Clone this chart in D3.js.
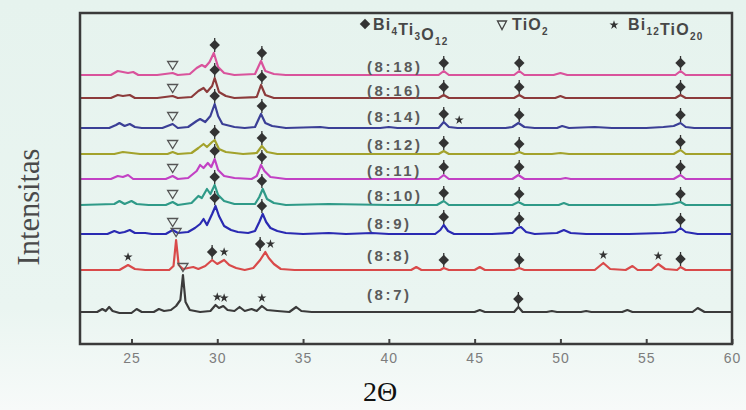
<!DOCTYPE html>
<html>
<head>
	<title>XRD Bi4Ti3O12</title>
	<meta charset="utf-8">
	<script src="https://cdnjs.cloudflare.com/ajax/libs/d3/7.8.5/d3.min.js"></script>
	<style type="text/css">
		body { margin: 0; }
		.tick text { font-family: Arial, "Liberation Sans", sans-serif; font-size: 14px; fill: #7d7d7d; letter-spacing: 1px; }
		.tick line { stroke: #444; stroke-width: 2px; }
		.lbl { font-family: Arial, "Liberation Sans", sans-serif; font-size: 15px; font-weight: bold; fill: #5a5a5a; letter-spacing: 2.6px; }
		.leg { font-family: Arial, "Liberation Sans", sans-serif; font-size: 16px; font-weight: bold; fill: #474747; letter-spacing: 1.2px; }
	</style>
</head>
<body>
	<script type="text/javascript">

		// sample names, bottom to top
		let samples = ['(8:7)', '(8:8)', '(8:9)', '(8:10)', '(8:11)', '(8:12)', '(8:14)', '(8:16)', '(8:18)'];
		// vertical offset of each pattern (a.u.)
		let offsets = [32, 74, 110, 139, 165, 190, 216, 246, 269];
		let colors = ['#3b3b3b', '#d94a4a', '#2a2ab2', '#2f9a88', '#c241c4', '#a3a22c', '#3b3f96', '#8c3b3b', '#d9539c'];
		let xTicks = [25, 30, 35, 40, 45, 50, 55, 60];

		// [2theta, intensity above own baseline]
		let p87 = [[22,0],[23.0,0],[23.3,3],[23.5,1],[23.7,5],[23.9,1],[24.3,-1],[25.0,-1],[25.3,3],[25.6,0],[26.3,0],[26.6,3],[26.9,1],[27.3,2],[27.6,6],[27.85,12],[28.0,37],[28.15,10],[28.4,2],[29.0,0],[29.6,1],[29.9,7],[30.1,4],[30.35,6],[30.6,2],[31.0,1],[31.3,5],[31.6,1],[32.0,3],[32.3,1],[32.6,6],[32.9,2],[33.5,1],[34.2,0],[34.6,5],[34.9,1],[35.5,0],[38.0,0],[41.0,0],[45.0,0],[45.3,2],[45.6,0],[47.3,0],[47.55,5],[47.8,0],[49.2,0],[49.5,1],[49.8,0],[51.2,0],[51.5,1],[51.8,0],[53.6,0],[53.9,2],[54.2,0],[57.7,0],[58.0,4],[58.4,0],[60,0]];
		let p88 = [[22,0],[24.3,0],[24.8,5],[25.2,1],[25.8,0],[27.2,0],[27.45,4],[27.6,30],[27.75,5],[28.0,1],[28.6,3],[28.9,1],[29.3,4],[29.7,10],[30.0,6],[30.4,10],[30.7,5],[31.1,2],[31.6,0],[32.1,2],[32.5,10],[32.8,18],[33.0,12],[33.3,6],[33.7,1],[34.5,0],[40,0],[41.3,0],[41.6,3],[41.9,0],[43.0,0],[43.2,2],[43.5,0],[45.0,0],[45.3,3],[45.6,0],[47.3,0],[47.6,2],[47.9,0],[52.0,0],[52.5,7],[52.9,1],[53.8,0],[54.2,4],[54.5,0],[55.3,0],[55.7,6],[56.1,1],[56.8,0],[57.0,3],[57.3,0],[60,0]];
		let p89 = [[22,0],[23.6,0],[24.0,3],[24.3,1],[24.6,2],[24.9,4],[25.2,1],[25.8,1],[26.2,0],[27.0,0],[27.4,4],[27.7,1],[28.3,2],[28.7,6],[29.0,10],[29.2,15],[29.4,9],[29.7,20],[29.9,28],[30.1,18],[30.4,8],[30.8,4],[31.2,2],[31.8,1],[32.2,3],[32.45,12],[32.65,20],[32.85,12],[33.1,6],[33.5,3],[34.0,1],[35.0,0],[36.5,1],[37.5,0],[39.0,1],[40.0,0],[42.7,0],[43.0,4],[43.2,9],[43.45,3],[43.8,0],[46.0,0],[47.2,1],[47.5,6],[47.7,7],[48.0,2],[48.5,0],[49.8,1],[50.2,4],[50.6,1],[51.5,0],[54.0,0],[56.0,1],[56.7,2],[57.0,6],[57.3,2],[58,0],[60,0]];
		let p810 = [[22,0],[24.0,1],[24.3,4],[24.6,1],[25.0,4],[25.3,1],[26,0],[27.0,0],[27.4,3],[27.7,0],[28.5,2],[28.9,9],[29.1,7],[29.4,16],[29.6,11],[29.85,20],[30.05,10],[30.4,4],[31,1],[32.2,1],[32.45,8],[32.65,16],[32.9,6],[33.3,2],[34,0],[36.5,1],[40,0],[42.8,0],[43.2,4],[43.5,0],[47.2,0],[47.55,3],[47.9,0],[49.9,0],[50.2,2],[50.5,0],[55.5,0],[56.5,1],[57.0,3],[57.3,0],[60,0]];
		let p811 = [[22,0],[23.8,0],[24.2,3],[24.5,2],[24.8,4],[25.1,0],[26.0,0],[27.0,0],[27.4,3],[27.7,0],[28.3,1],[28.8,8],[29.0,14],[29.2,11],[29.45,16],[29.65,12],[29.85,20],[30.05,9],[30.4,3],[31,1],[32,0],[32.3,3],[32.55,14],[32.75,8],[33.1,2],[34,0],[40,0],[42.9,0],[43.2,4],[43.5,0],[47.2,0],[47.55,4],[47.9,0],[50.0,0],[50.3,1],[50.6,0],[56.6,0],[57.0,4],[57.3,0],[60,0]];
		let p812 = [[22,0],[24.0,0],[24.5,2],[25.0,1],[25.5,0],[27.1,0],[27.4,2],[27.7,0],[28.5,1],[28.9,6],[29.2,10],[29.4,7],[29.7,12],[29.85,14],[30.1,5],[30.5,2],[31.5,0],[32.3,1],[32.6,8],[32.9,2],[33.5,0],[40,0],[42.9,0],[43.2,3],[43.5,0],[47.3,0],[47.6,2],[47.9,0],[49.5,0],[50.0,1],[50.5,0],[56.6,0],[57.0,4],[57.3,0],[60,0]];
		let p814 = [[22,0],[23.7,0],[24.1,3],[24.3,5],[24.6,2],[24.9,4],[25.2,1],[25.6,0],[26.8,0],[27.4,4],[27.7,0],[28.3,1],[28.8,7],[29.0,9],[29.3,6],[29.6,12],[29.85,24],[30.05,12],[30.3,4],[31,1],[31.6,0],[32.2,1],[32.55,14],[32.8,5],[33.2,2],[34,0],[36,1],[36.5,0],[39.5,0],[40,1],[40.5,0],[42.9,0],[43.2,6],[43.5,1],[44,0],[46.8,0],[47.2,1],[47.55,5],[47.9,1],[48.5,0],[49.8,0],[50.1,2],[50.5,0],[52,1],[53,0],[55,0],[56,1],[56.6,2],[57.0,5],[57.3,1],[57.8,0],[60,0]];
		let p816 = [[22,0],[23.8,0],[24.2,3],[24.5,2],[24.9,3],[25.2,0],[26.5,0],[27.4,2],[27.7,0],[28.5,1],[28.9,7],[29.2,10],[29.4,6],[29.7,12],[29.85,20],[30.1,6],[30.5,2],[31,0],[32.3,1],[32.55,13],[32.8,3],[33.3,0],[40,0],[42.9,0],[43.2,3],[43.5,0],[47.3,0],[47.6,3],[47.9,0],[49.7,0],[50.0,2],[50.3,0],[56.7,0],[57.0,3],[57.3,0],[60,0]];
		let p818 = [[22,0],[23.8,0],[24.2,4],[24.5,3],[24.8,2],[25.1,3],[25.4,0],[26.5,0],[27.4,2],[27.7,0],[28.4,1],[28.8,7],[29.1,10],[29.3,8],[29.55,13],[29.8,22],[30.05,8],[30.4,2],[31,0],[32.2,1],[32.55,14],[32.8,4],[33.3,1],[34,0],[40,0],[42.9,0],[43.2,4],[43.5,0],[47.3,0],[47.6,4],[47.9,0],[49.6,0],[50.0,2],[50.4,0],[56.7,0],[57.0,4],[57.3,0],[60,0]];
		let patterns = [p87, p88, p89, p810, p811, p812, p814, p816, p818];

		// phase markers per pattern: [2theta, phase]  b = Bi4Ti3O12, t = TiO2, s = Bi12TiO20
		let bitSet = [[27.4,'t'],[29.85,'b'],[32.6,'b'],[43.2,'b'],[47.6,'b'],[57.0,'b']];
		let marks = [
			[[28.0,'t'],[30.0,'s'],[30.4,'s'],[32.6,'s'],[47.55,'b']],
			[[24.8,'s'],[27.6,'t'],[29.7,'b'],[30.4,'s'],[32.5,'b'],[33.1,'s'],[43.2,'b'],[47.6,'b'],[52.5,'s'],[55.7,'s'],[57.0,'b']],
			bitSet, bitSet, bitSet, bitSet,
			bitSet.concat([[44.1,'s']]),
			bitSet, bitSet
		];

		let W = 746, H = 410;
		let svg = d3.select('body').append('svg')
			.attr('width', W)
			.attr('height', H);

		// page background (faded watermark look)
		let grad = svg.append('defs').append('linearGradient')
			.attr('id', 'bg').attr('x1', 0).attr('y1', 0).attr('x2', 0).attr('y2', 1);
		grad.append('stop').attr('offset', '0%').attr('stop-color', '#e6f3ee');
		grad.append('stop').attr('offset', '75%').attr('stop-color', '#eaf5f1');
		grad.append('stop').attr('offset', '100%').attr('stop-color', '#f7faf9');
		svg.append('rect').attr('width', W).attr('height', H).attr('fill', 'url(#bg)');

		let xScale = d3.scaleLinear().domain([22, 60]).range([80, 732]);
		let yScale = d3.scaleLinear().domain([0, 331]).range([344, 13]);

		// x axis, ticks pointing inside
		svg.append('g')
			.attr('transform', 'translate(0,344)')
			.call(d3.axisBottom(xScale).tickValues(xTicks).tickSize(-5).tickPadding(9))
			.call(g => g.select('.domain').remove());

		let line = d3.line()
			.x(d => xScale(d[0]))
			.y(d => d[1]);

		patterns.forEach((pts, i) => {
			svg.append('path')
				.datum(pts.map(p => [p[0], yScale(offsets[i] + p[1])]))
				.attr('d', line)
				.attr('fill', 'none')
				.attr('stroke', colors[i])
				.attr('stroke-width', 2.2)
				.attr('stroke-linejoin', 'round');
		});

		// phase markers sit above the local maximum of the pattern
		let mk = svg.append('g').attr('fill', '#333').attr('stroke', '#333');
		marks.forEach((list, i) => {
			list.forEach(m => {
				let near = patterns[i].filter(p => Math.abs(p[0] - m[0]) <= 0.35);
				let top = d3.max(near, p => p[1]) || 0;
				let cx = xScale(m[0]);
				let cy = yScale(offsets[i] + top) - 8;
				if (m[1] === 'b') {
					mk.append('line').attr('x1', cx).attr('x2', cx).attr('y1', cy - 7).attr('y2', cy + 7).attr('stroke-width', 1.3);
					mk.append('path').attr('d', d3.symbol(d3.symbolDiamond2, 70)())
						.attr('transform', `translate(${cx},${cy})`).attr('stroke', 'none');
				} else if (m[1] === 't') {
					mk.append('path').attr('d', 'M-5,-3.5L5,-3.5L0,4.5Z')
						.attr('transform', `translate(${cx},${cy})`)
						.attr('fill', 'none').attr('stroke', '#555').attr('stroke-width', 1.3);
				} else {
					mk.append('path').attr('d', d3.symbol(d3.symbolStar, 26)())
						.attr('transform', `translate(${cx},${cy})`).attr('stroke', 'none');
				}
			});
		});

		// sample labels
		samples.forEach((s, i) => {
			let above = i < samples.length - 1 ? (offsets[i] + offsets[i + 1]) / 2 - 4 : offsets[i] + 8;
			svg.append('text')
				.attr('class', 'lbl')
				.attr('x', 367)
				.attr('y', yScale(above))
				.attr('dy', '0.35em')
				.text(s);
		});

		// legend
		function formula(el, parts) {
			parts.forEach(t => {
				if (t[1]) {
					el.append('tspan').text(t[0]).attr('font-size', 10).attr('dy', 5);
					el.append('tspan').text('').attr('dy', -5);
				} else {
					el.append('tspan').text(t[0]);
				}
			});
		}
		formula(svg.append('text').attr('class', 'leg').attr('x', 373).attr('y', 30),
			[['Bi',0],['4',1],['Ti',0],['3',1],['O',0],['12',1]]);
		svg.append('path').attr('d', d3.symbol(d3.symbolDiamond2, 70)())
			.attr('transform', 'translate(365,24)').attr('fill', '#333');
		svg.append('path').attr('d', 'M-4.5,-4L4.5,-4L0,4.5Z')
			.attr('transform', 'translate(502,25)').attr('fill', 'none').attr('stroke', '#444').attr('stroke-width', 1.3);
		formula(svg.append('text').attr('class', 'leg').attr('x', 512).attr('y', 30),
			[['TiO',0],['2',1]]);
		svg.append('path').attr('d', d3.symbol(d3.symbolStar, 26)())
			.attr('transform', 'translate(614,25)').attr('fill', '#333');
		formula(svg.append('text').attr('class', 'leg').attr('x', 628).attr('y', 30),
			[['Bi',0],['12',1],['TiO',0],['20',1]]);

		// frame
		svg.append('rect')
			.attr('x', 80).attr('y', 13)
			.attr('width', 652).attr('height', 331)
			.attr('fill', 'none')
			.attr('stroke', '#3a3a3a')
			.attr('stroke-width', 2.5);

		// axis titles
		svg.append('text')
			.attr('transform', 'translate(39,207) rotate(-90)')
			.attr('text-anchor', 'middle')
			.attr('font-family', '"Liberation Serif", "Times New Roman", serif')
			.attr('font-size', 32)
			.attr('textLength', 117)
			.attr('lengthAdjust', 'spacingAndGlyphs')
			.attr('fill', '#4a4a4a')
			.text('Intensitas');

		svg.append('text')
			.attr('x', 380)
			.attr('y', 401)
			.attr('text-anchor', 'middle')
			.attr('font-family', '"Liberation Serif", "Times New Roman", serif')
			.attr('font-size', 28)
			.attr('fill', '#111')
			.text('2\u0398');
	</script>
</body>
</html>
